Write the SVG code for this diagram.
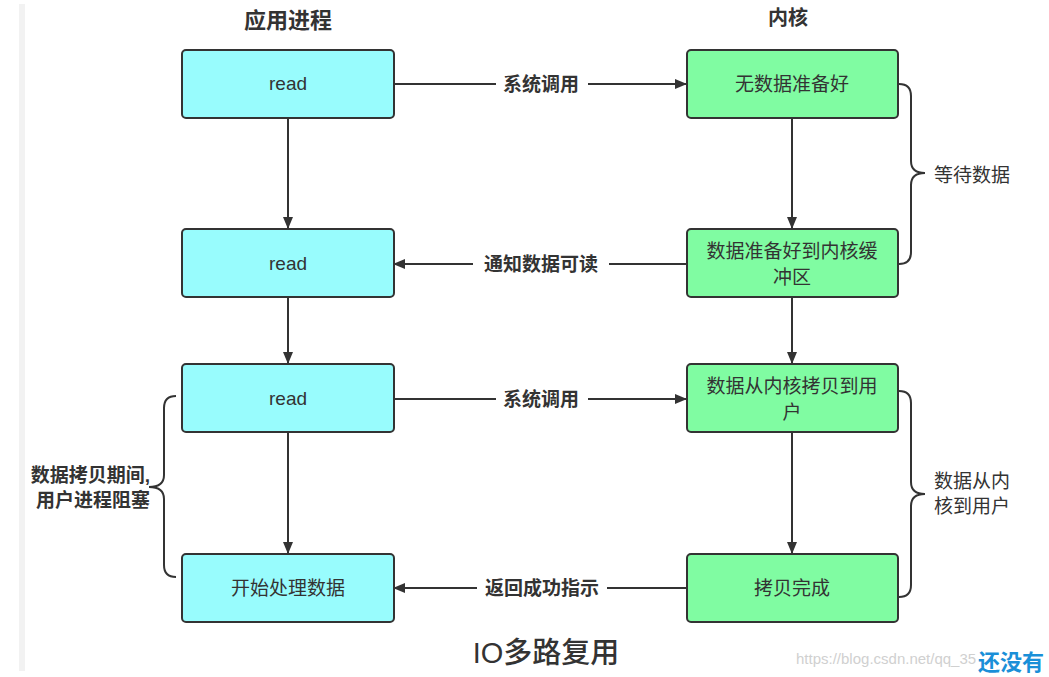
<svg xmlns="http://www.w3.org/2000/svg" width="1049" height="677" viewBox="0 0 1049 677">
<defs>
<marker id="ah" viewBox="0 0 12 10" refX="11" refY="5" markerWidth="12" markerHeight="10" markerUnits="userSpaceOnUse" orient="auto">
<path d="M0,0 L12,5 L0,10 Z" fill="#333"/>
</marker>
<style>
.app{fill:#98fcfd;stroke:#333;stroke-width:2}
.ker{fill:#80fca2;stroke:#333;stroke-width:2}
.t{font-family:"Liberation Sans","Noto Sans CJK SC",sans-serif;font-size:19px;fill:#333;text-anchor:middle}
.h{font-family:"Liberation Sans","Noto Sans CJK SC",sans-serif;font-size:22px;font-weight:bold;fill:#333;text-anchor:middle}
.lb{font-family:"Liberation Sans","Noto Sans CJK SC",sans-serif;font-size:19px;font-weight:bold;fill:#333;text-anchor:middle}
.c{stroke:#333;stroke-width:2;fill:none}
.br{stroke:#333;stroke-width:2;fill:none}
</style>
</defs>
<rect width="1049" height="677" fill="#fff"/>
<rect x="19" y="4" width="6" height="667" fill="#f2f2f2"/>
<text class="h" x="288" y="28">应用进程</text>
<text class="h" x="788" y="25" style="font-size:20px">内核</text>
<g id="connectors">
<line class="c" x1="288" y1="118" x2="288" y2="228" marker-end="url(#ah)"/>
<line class="c" x1="288" y1="297" x2="288" y2="363" marker-end="url(#ah)"/>
<line class="c" x1="288" y1="432" x2="288" y2="553" marker-end="url(#ah)"/>
<line class="c" x1="792" y1="118" x2="792" y2="228" marker-end="url(#ah)"/>
<line class="c" x1="792" y1="297" x2="792" y2="363" marker-end="url(#ah)"/>
<line class="c" x1="792" y1="432" x2="792" y2="553" marker-end="url(#ah)"/>
<line class="c" x1="394" y1="84" x2="686" y2="84" marker-end="url(#ah)"/>
<line class="c" x1="686" y1="264" x2="394" y2="264" marker-end="url(#ah)"/>
<line class="c" x1="394" y1="399" x2="686" y2="399" marker-end="url(#ah)"/>
<line class="c" x1="686" y1="588" x2="394" y2="588" marker-end="url(#ah)"/>
<rect x="496" y="72" width="92" height="24" fill="#fff"/>
<text class="lb" x="541" y="91">系统调用</text>
<rect x="473" y="252" width="136" height="24" fill="#fff"/>
<text class="lb" x="541" y="271">通知数据可读</text>
<rect x="496" y="387" width="92" height="24" fill="#fff"/>
<text class="lb" x="541" y="406">系统调用</text>
<rect x="477" y="576" width="130" height="24" fill="#fff"/>
<text class="lb" x="542" y="595">返回成功指示</text>
</g>
<g id="n1"><rect class="app" x="182" y="50" width="212" height="68" rx="4"/><text class="t" x="288" y="90">read</text></g>
<g id="n2"><rect class="app" x="182" y="229" width="212" height="68" rx="4"/><text class="t" x="288" y="270">read</text></g>
<g id="n3"><rect class="app" x="182" y="364" width="212" height="68" rx="4"/><text class="t" x="288" y="405">read</text></g>
<g id="n4"><rect class="app" x="182" y="554" width="212" height="68" rx="4"/><text class="t" x="288" y="595">开始处理数据</text></g>
<g id="k1"><rect class="ker" x="687" y="50" width="211" height="68" rx="4"/><text class="t" x="792" y="91">无数据准备好</text></g>
<g id="k2"><rect class="ker" x="687" y="229" width="211" height="68" rx="4"/><text class="t" x="792" y="258">数据准备好到内核缓</text><text class="t" x="792" y="284">冲区</text></g>
<g id="k3"><rect class="ker" x="687" y="364" width="211" height="68" rx="4"/><text class="t" x="792" y="393">数据从内核拷贝到用</text><text class="t" x="792" y="419">户</text></g>
<g id="k4"><rect class="ker" x="687" y="554" width="211" height="68" rx="4"/><text class="t" x="792" y="595">拷贝完成</text></g>
<g id="brace1">
<path class="br" d="M899,84 Q911,84 911,96 L911,161 Q911,173 925,173 Q911,173 911,185 L911,252 Q911,264 899,264"/>
<text class="t" x="972" y="182">等待数据</text>
</g>
<g id="brace2">
<path class="br" d="M899,391 Q911,391 911,403 L911,482 Q911,494 925,494 Q911,494 911,506 L911,585 Q911,597 899,597"/>
<text class="t" x="972" y="488">数据从内</text>
<text class="t" x="972" y="513">核到用户</text>
</g>
<g id="brace3">
<path class="br" d="M176,396 Q164,396 164,408 L164,475 Q164,487 149,487 Q164,487 164,499 L164,565 Q164,577 176,577"/>
<text class="lb" x="150" y="482" style="text-anchor:end">数据拷贝期间,</text>
<text class="lb" x="150" y="507" style="text-anchor:end">用户进程阻塞</text>
</g>
<text x="546" y="663" style="font-family:'Liberation Sans','Noto Sans CJK SC',sans-serif;font-size:29px;font-weight:500;fill:#333;text-anchor:middle">IO多路复用</text>
<text x="796" y="664" style="font-family:'Liberation Sans',sans-serif;font-size:15px;fill:#d0d0d0">https://blog.csdn.net/qq_35</text>
<text x="978" y="670" style="font-family:'Noto Sans CJK SC',sans-serif;font-size:22px;font-weight:bold;fill:#1a8fd8">还没有</text>
</svg>
